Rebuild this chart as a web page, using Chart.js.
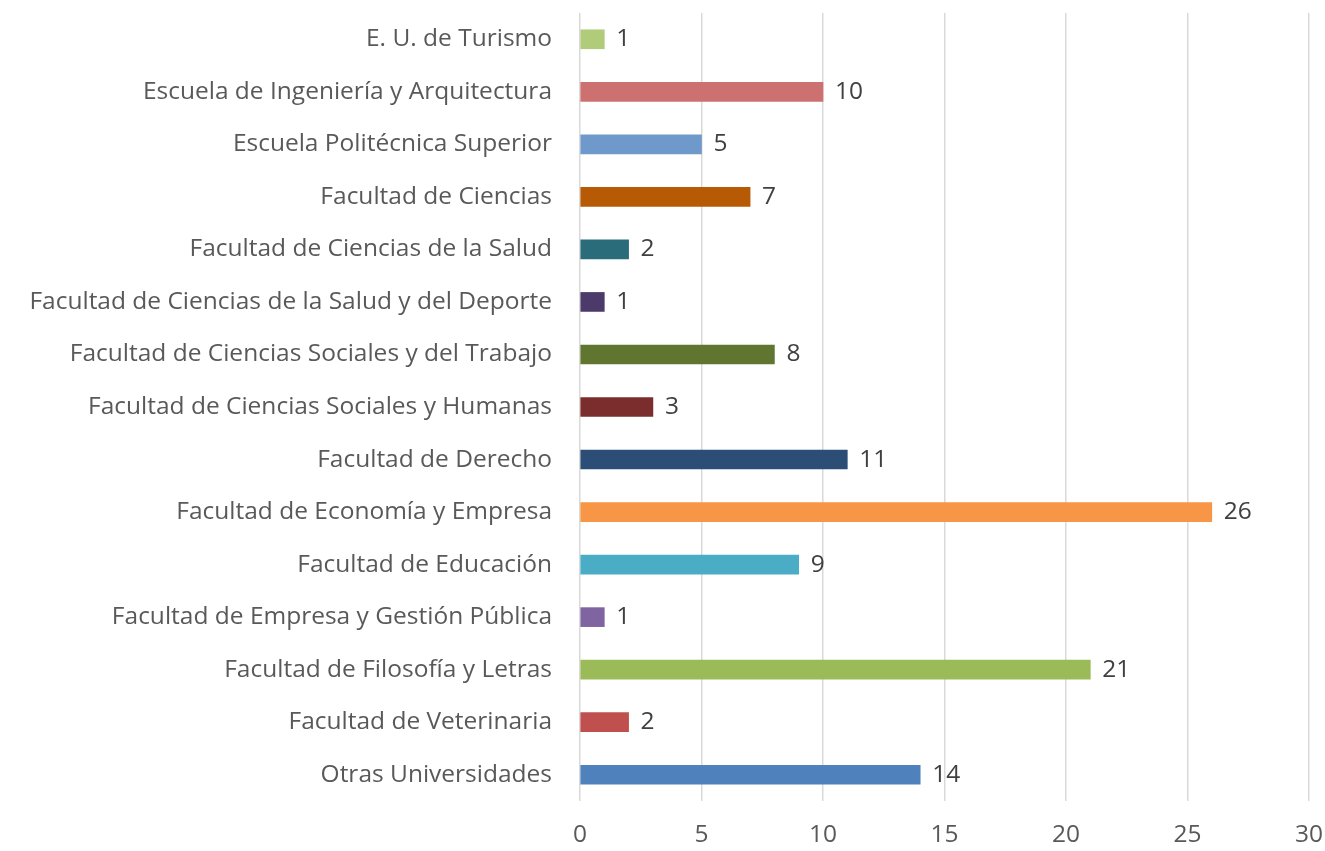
<!DOCTYPE html>
<html>
<head>
    <title>Grafico</title>
    <script src="https://cdn.jsdelivr.net/npm/chart.js"></script>
    <style>
        html, body { margin: 0; padding: 0; background: #ffffff; }
        #chartContainer { width: 1325px; height: 851px; }
    </style>
</head>
<body>
    <div id="chartContainer">
        <canvas id="myChart" width="1325" height="851"></canvas>
    </div>
    <script>

        const centros = [
            'E. U. de Turismo',
            'Escuela de Ingeniería y Arquitectura',
            'Escuela Politécnica Superior',
            'Facultad de Ciencias',
            'Facultad de Ciencias de la Salud',
            'Facultad de Ciencias de la Salud y del Deporte',
            'Facultad de Ciencias Sociales y del Trabajo',
            'Facultad de Ciencias Sociales y Humanas',
            'Facultad de Derecho',
            'Facultad de Economía y Empresa',
            'Facultad de Educación',
            'Facultad de Empresa y Gestión Pública',
            'Facultad de Filosofía y Letras',
            'Facultad de Veterinaria',
            'Otras Universidades'
        ];
        const totales = [1, 10, 5, 7, 2, 1, 8, 3, 11, 26, 9, 1, 21, 2, 14];
        const colores = [
            '#b0cb7a', '#cd7070', '#7099cb', '#b75a06', '#2a6c7a',
            '#4c3a6b', '#5f7530', '#7b2c2c', '#2c4d75', '#f79646',
            '#4bacc6', '#8064a2', '#9bbb59', '#c0504d', '#4f81bd'
        ];
        const ticksX = [0, 5, 10, 15, 20, 25, 30];

        const fuente = '"Open Sans", Lato, sans-serif';
        const tamFuente = 24.5;

        // sin relleno extra por las etiquetas de los ejes
        function sinRelleno(scale) {
            scale.paddingTop = 0;
            scale.paddingBottom = 0;
            scale.paddingLeft = 0;
            scale.paddingRight = 0;
        }

        // etiquetas de valor al final de cada barra
        const etiquetasValor = {
            id: 'etiquetasValor',
            afterDatasetsDraw(chart) {
                const ctx = chart.ctx;
                const meta = chart.getDatasetMeta(0);
                ctx.save();
                ctx.font = tamFuente + 'px ' + fuente;
                ctx.fillStyle = '#404040';
                ctx.textAlign = 'left';
                ctx.textBaseline = 'middle';
                meta.data.forEach((bar, i) => {
                    ctx.fillText(String(chart.data.datasets[0].data[i]), bar.x + 12, bar.y);
                });
                ctx.restore();
            }
        };

        const ctx = document.getElementById('myChart').getContext('2d');
        const myChart = new Chart(ctx, {
            type: 'bar',
            data: {
                labels: centros,
                datasets: [{
                    label: 'Total',
                    data: totales,
                    backgroundColor: colores,
                    borderWidth: 0,
                    barThickness: 19
                }]
            },
            options: {
                indexAxis: 'y',
                responsive: false,
                animation: false,
                layout: {
                    autoPadding: false,
                    padding: { top: 13, right: 16, bottom: 0, left: 0 }
                },
                plugins: {
                    legend: { display: false },
                    tooltip: { enabled: false }
                },
                scales: {
                    x: {
                        min: 0,
                        max: 30,
                        afterBuildTicks: (scale) => {
                            scale.ticks = ticksX.map(v => ({ value: v }));
                        },
                        afterFit: (scale) => { scale.height = 50; sinRelleno(scale); },
                        grid: {
                            color: '#d9d9d9',
                            lineWidth: 1.5,
                            drawTicks: false
                        },
                        border: { display: false },
                        ticks: {
                            padding: 19,
                            color: '#595959',
                            font: { family: fuente, size: tamFuente }
                        }
                    },
                    y: {
                        afterFit: (scale) => { scale.width = 580; sinRelleno(scale); },
                        grid: { display: false, drawTicks: false },
                        border: { display: false },
                        ticks: {
                            padding: 28,
                            color: '#595959',
                            font: { family: fuente, size: tamFuente }
                        }
                    }
                }
            },
            plugins: [etiquetasValor]
        });
    </script>
</body>
</html>
